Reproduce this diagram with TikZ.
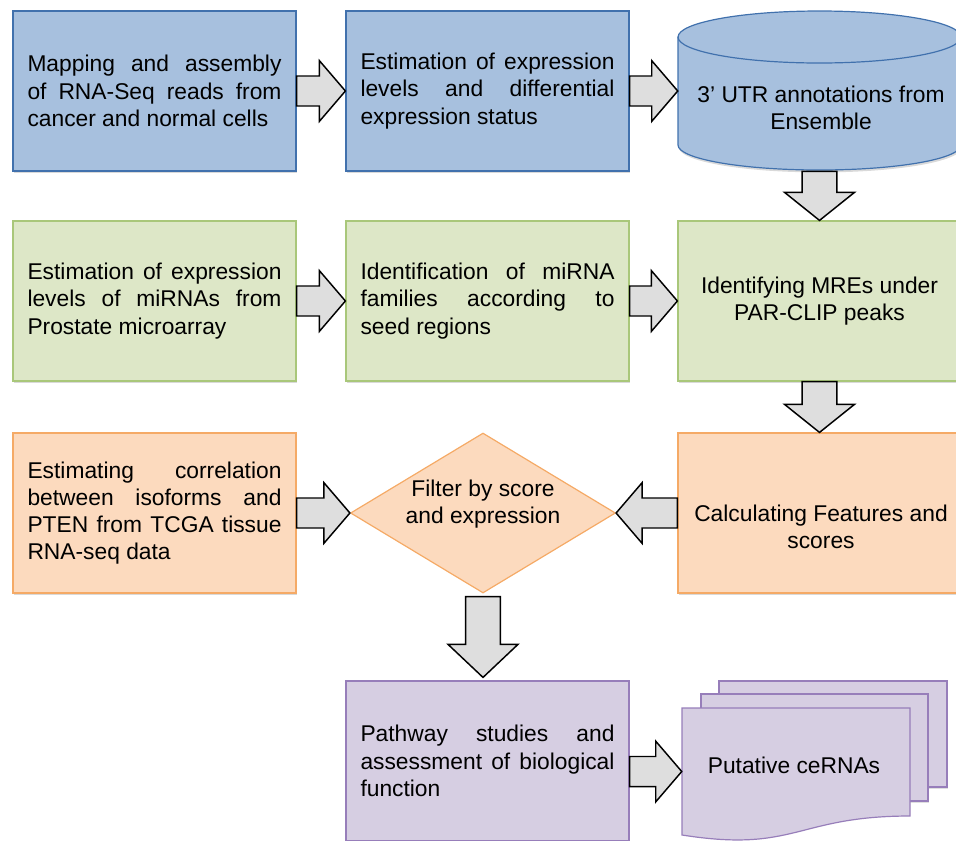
\documentclass[tikz,border=0pt]{standalone}
\usepackage{fontspec}
\setmainfont{Liberation Sans}
\usetikzlibrary{calc,shapes.geometric,shadows}
\definecolor{bfill}{HTML}{A7C0DE}
\definecolor{bdraw}{HTML}{4171AD}
\definecolor{gfill}{HTML}{DDE7C7}
\definecolor{gdraw}{HTML}{A9C77A}
\definecolor{ofill}{HTML}{FCDABE}
\definecolor{odraw}{HTML}{F5AA66}
\definecolor{pfill}{HTML}{D6CEE2}
\definecolor{pdraw}{HTML}{977EBA}
\definecolor{afill}{HTML}{DEDEDE}
\newcommand\jl[1]{\makebox[190.5pt][s]{\spaceskip=0pt\relax #1}\\}
\newcommand\barrow[5]{%
  \coordinate (ba-s) at #4; \coordinate (ba-t) at #5;
  \coordinate (ba-h) at ($(ba-t)!#3!(ba-s)$);
  \draw[blockarrow] ($(ba-s)!#1!90:(ba-t)$) -- ($(ba-h)!#1!90:(ba-t)$) -- ($(ba-h)!#2!90:(ba-t)$) -- (ba-t) -- ($(ba-h)!#2!-90:(ba-t)$) -- ($(ba-h)!#1!-90:(ba-t)$) -- ($(ba-s)!#1!-90:(ba-t)$) -- cycle;}
\newcommand\harrow[2]{\barrow{11.25pt}{22.75pt}{19.5pt}{#1}{#2}}
\newcommand\varrow[2]{\barrow{13.1pt}{26.2pt}{21pt}{#1}{#2}}
\begin{document}
\begin{tikzpicture}[x=0.75pt,y=-0.75pt,
  every node/.style={font=\fontsize{17.1}{20.4}\selectfont},
  box/.style={rectangle, minimum width=212.25pt, minimum height=120pt, inner sep=0pt, line width=0.9pt,
    drop shadow={shadow xshift=0.6pt, shadow yshift=-1.8pt, opacity=0.3}},
  jbox/.style={box, text width=190.5pt, align=flush left},
  cbox/.style={box, align=center},
  bluebox/.style={fill=bfill, draw=bdraw},
  greenbox/.style={fill=gfill, draw=gdraw},
  orangebox/.style={fill=ofill, draw=odraw},
  purplebox/.style={fill=pfill, draw=pdraw},
  docshape/.style={fill=pfill, draw=pdraw, line width=0.9pt},
  blockarrow/.style={fill=afill, draw=black, line width=1.1pt, line join=miter}]
\useasboundingbox (0,0) rectangle (956,840);

% row 1
\node[jbox,bluebox] (b1) at (154.5,91) {\jl{Mapping and assembly}\jl{of RNA-Seq reads from}cancer and normal cells};
\node[jbox,bluebox] (b2) at (487.5,91) {\jl{Estimation of expression}\jl{levels and differential}expression status};
\node[rectangle, minimum width=212.25pt, minimum height=120pt, inner sep=0pt] (cyl) at (819.5,91) {};
\draw[bluebox, line width=0.9pt, drop shadow={shadow xshift=0.6pt, shadow yshift=-1.8pt, opacity=0.3}] (678,37) -- (678,145)
  arc[start angle=180, end angle=360, x radius=106.1pt, y radius=18.75pt]
  -- (961,37) arc[start angle=0, end angle=180, x radius=106.1pt, y radius=19.5pt] -- cycle;
\draw[draw=bdraw, line width=0.9pt] (678,37) arc[start angle=180, end angle=360, x radius=106.1pt, y radius=19.5pt];
\node[align=center] (cylt) at (821,108) {3’ UTR annotations from\\Ensemble};

% row 2
\node[jbox,greenbox] (g1) at (154.5,301) {\jl{Estimation of expression}\jl{levels of miRNAs from}Prostate microarray};
\node[jbox,greenbox] (g2) at (487.5,301) {\jl{Identification of miRNA}\jl{families according to}seed regions};
\node[cbox,greenbox] (g3) at (819.5,301) {Identifying MREs under\\PAR-CLIP peaks};

% row 3
\node[jbox,orangebox] (o1) at (154.5,513) {\jl{Estimating correlation}\jl{between isoforms and}\jl{PTEN from TCGA tissue}RNA-seq data};
\node[diamond, minimum width=198.75pt, minimum height=120pt, inner sep=0pt, fill=ofill, draw=odraw, line width=0.9pt] (dia) at (483,513) {};
\node[align=center] (diat) at (483,504) {Filter by score\\and expression};
\node[box,orangebox] (o3) at (819.5,513) {};
\node[align=center] (o3t) at (821,527) {Calculating Features and\\scores};

% row 4
\node[jbox,purplebox] (p) at (487.5,761) {\jl{Pathway studies and}\jl{assessment of biological}function};
\draw[docshape, drop shadow={shadow xshift=0.6pt, shadow yshift=-1.5pt, opacity=0.25}] (719,681) rectangle (947,787);
\draw[docshape, drop shadow={shadow xshift=0.6pt, shadow yshift=-1.5pt, opacity=0.25}] (701,694) rectangle (928,801);
\draw[docshape] (682,708) -- (910,708) -- (910,816) .. controls (796,816) and (796,853) .. (682,835) -- cycle;
\node[inner sep=0pt, minimum width=171pt, minimum height=95.25pt] (doc) at (796,771.5) {};
\node (doct) at (794,765) {Putative ceRNAs};

% block arrows
\harrow{(b1.east)}{(b2.west)}
\harrow{(b2.east)}{(cyl.west)}
\varrow{(cyl.south)}{(g3.north)}
\harrow{(g1.east)}{(g2.west)}
\harrow{(g2.east)}{(g3.west)}
\varrow{(g3.south)}{(o3.north)}
\harrow{(o1.east)}{(dia.west)}
\harrow{(o3.west)}{(dia.east)}
\barrow{13.1pt}{26.2pt}{24.75pt}{($(dia.south)+(0,3)$)}{($(dia.south |- p.north)+(0,-3)$)}
\harrow{(p.east |- doc.west)}{(doc.west)}
\end{tikzpicture}
\end{document}
